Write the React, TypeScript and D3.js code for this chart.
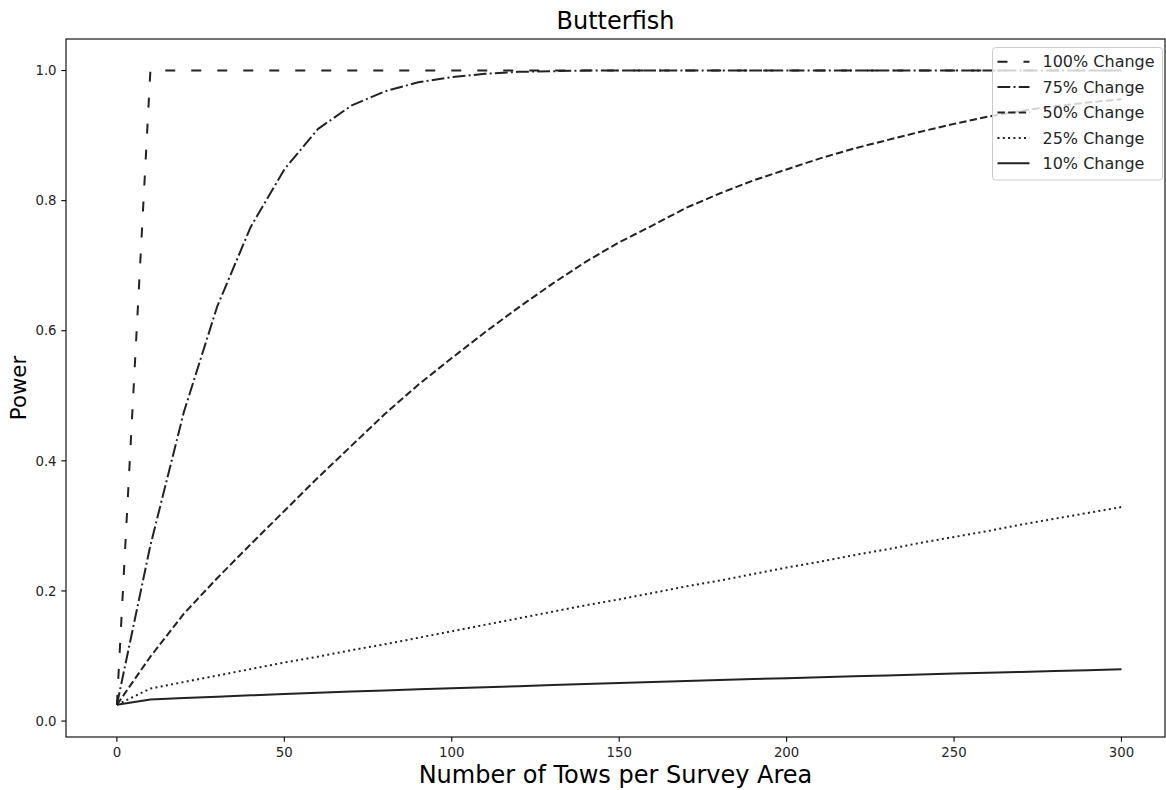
import React from "react";
import * as d3 from "d3";

const towCounts = [0, 10, 20, 30, 40, 50, 60, 70, 80, 90, 100, 110, 120, 130, 140, 150, 160, 170, 180, 190, 200, 210, 220, 230, 240, 250, 260, 270, 280, 290, 300];

const power100 = [0.025, 1, 1, 1, 1, 1, 1, 1, 1, 1, 1, 1, 1, 1, 1, 1, 1, 1, 1, 1, 1, 1, 1, 1, 1, 1, 1, 1, 1, 1, 1];
const power75 = [0.025, 0.27, 0.475, 0.638, 0.76, 0.848, 0.91, 0.946, 0.968, 0.982, 0.99, 0.995, 0.998, 0.999, 1, 1, 1, 1, 1, 1, 1, 1, 1, 1, 1, 1, 1, 1, 1, 1, 1];
const power50 = [0.025, 0.099, 0.165, 0.22, 0.272, 0.323, 0.374, 0.423, 0.472, 0.517, 0.558, 0.598, 0.636, 0.672, 0.706, 0.736, 0.762, 0.789, 0.811, 0.831, 0.848, 0.865, 0.88, 0.893, 0.906, 0.918, 0.929, 0.938, 0.945, 0.951, 0.956];
const power25 = [0.025, 0.05, 0.06, 0.07, 0.08, 0.09, 0.099, 0.109, 0.118, 0.128, 0.138, 0.148, 0.158, 0.168, 0.178, 0.187, 0.197, 0.207, 0.216, 0.226, 0.236, 0.245, 0.255, 0.264, 0.274, 0.283, 0.292, 0.302, 0.311, 0.32, 0.329];
const power10 = [0.025, 0.033, 0.0355, 0.0375, 0.0395, 0.0415, 0.0435, 0.0455, 0.047, 0.0488, 0.0505, 0.052, 0.0537, 0.0553, 0.0568, 0.0584, 0.06, 0.0615, 0.063, 0.0645, 0.066, 0.0675, 0.0688, 0.0702, 0.0716, 0.073, 0.0743, 0.0756, 0.0769, 0.0782, 0.0795];

const seriesLabels = ["100% Change", "75% Change", "50% Change", "25% Change", "10% Change"];
const seriesValues = [power100, power75, power50, power25, power10];
const seriesDashes = ["10 16", "12.8 3.2 2 3.2", "7.4 3.2", "2 3.3", "none"];

const xTicks = [0, 50, 100, 150, 200, 250, 300];
const yTicks = [0.0, 0.2, 0.4, 0.6, 0.8, 1.0];

const W = 1166;
const H = 790;
const plot = { left: 66, right: 1165, top: 39, bottom: 737 };
const FONT = "DejaVu Sans, sans-serif";
const LINE = "#222";

export default function App() {
  const x = d3.scaleLinear().domain([-15.2, 313]).range([plot.left, plot.right]);
  const y = d3.scaleLinear().domain([-0.0245, 1.0485]).range([plot.bottom, plot.top]);

  const line = d3
    .line<[number, number]>()
    .x((d) => x(d[0]))
    .y((d) => y(d[1]));

  const legend = { left: 992.5, right: 1162.5, top: 47.5, bottom: 180, rowTop: 61.7, rowGap: 25.4 };

  return (
    <svg
      width={W}
      height={H}
      style={{ position: "absolute", left: 0, top: 0, background: "#fff" }}
      fontFamily={FONT}
    >
      <rect x={0} y={0} width={W} height={H} fill="#fff" />
      <defs>
        <clipPath id="plotclip">
          <rect x={plot.left} y={plot.top} width={plot.right - plot.left} height={plot.bottom - plot.top} />
        </clipPath>
      </defs>

      {/* series */}
      <g clipPath="url(#plotclip)">
        {seriesValues.map((vals, i) => (
          <path
            key={seriesLabels[i]}
            d={line(towCounts.map((t, j) => [t, vals[j]] as [number, number])) || ""}
            fill="none"
            stroke={LINE}
            strokeWidth={2}
            strokeDasharray={seriesDashes[i]}
            strokeLinejoin="round"
          />
        ))}
      </g>

      {/* spines */}
      <rect
        x={plot.left}
        y={plot.top}
        width={plot.right - plot.left}
        height={plot.bottom - plot.top}
        fill="none"
        stroke="#000"
        strokeWidth={1.1}
      />

      {/* x ticks */}
      {xTicks.map((t) => (
        <g key={"x" + t}>
          <line x1={x(t)} x2={x(t)} y1={plot.bottom} y2={plot.bottom + 4.7} stroke="#000" strokeWidth={1.1} />
          <text x={x(t)} y={plot.bottom + 20} textAnchor="middle" fontSize={13.3} fill="#262626">
            {t}
          </text>
        </g>
      ))}

      {/* y ticks */}
      {yTicks.map((t) => (
        <g key={"y" + t}>
          <line x1={plot.left - 4.7} x2={plot.left} y1={y(t)} y2={y(t)} stroke="#000" strokeWidth={1.1} />
          <text x={plot.left - 9.4} y={y(t)} dy="0.35em" textAnchor="end" fontSize={13.3} fill="#262626">
            {d3.format(".1f")(t)}
          </text>
        </g>
      ))}

      {/* title & labels */}
      <text x={(plot.left + plot.right) / 2} y={29} textAnchor="middle" fontSize={24} fill="#000">
        Butterfish
      </text>
      <text x={(plot.left + plot.right) / 2} y={783} textAnchor="middle" fontSize={24} fill="#000">
        Number of Tows per Survey Area
      </text>
      <text
        transform={`translate(26, ${(plot.top + plot.bottom) / 2}) rotate(-90)`}
        textAnchor="middle"
        fontSize={21.3}
        fill="#000"
      >
        Power
      </text>

      {/* legend */}
      <rect
        x={legend.left}
        y={legend.top}
        width={legend.right - legend.left}
        height={legend.bottom - legend.top}
        rx={3}
        ry={3}
        fill="#fff"
        fillOpacity={0.8}
        stroke="#ccc"
        strokeWidth={1}
      />
      {seriesLabels.map((lab, i) => {
        const cy = legend.rowTop + i * legend.rowGap;
        return (
          <g key={"leg" + lab}>
            <line
              x1={997.5}
              x2={1029.5}
              y1={cy}
              y2={cy}
              stroke={LINE}
              strokeWidth={2}
              strokeDasharray={seriesDashes[i]}
            />
            <text x={1042.5} y={cy} dy="0.35em" fontSize={16} fill="#262626">
              {lab}
            </text>
          </g>
        );
      })}
    </svg>
  );
}
